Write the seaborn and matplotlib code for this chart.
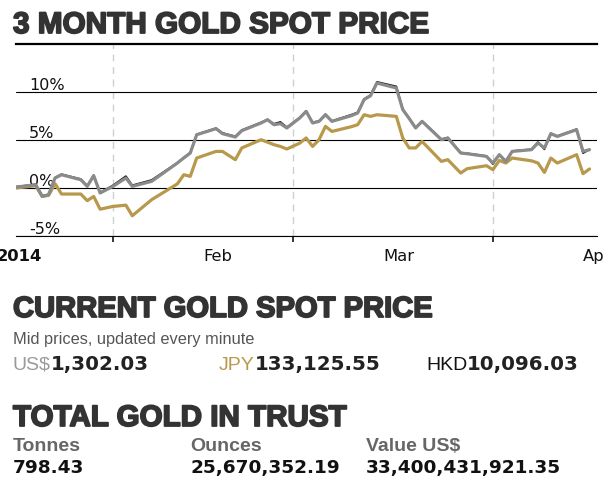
import numpy as np
import pandas as pd
import matplotlib
matplotlib.use("Agg")
import matplotlib.pyplot as plt
import matplotlib.patheffects as pe
from matplotlib.ticker import FixedLocator, FixedFormatter, NullFormatter
import matplotlib.dates as mdates
import seaborn as sns

# ---------------- data ----------------
dates = ["2014-01-17", "2014-01-20", "2014-01-21", "2014-01-22", "2014-01-23", "2014-01-24",
         "2014-01-27", "2014-01-28", "2014-01-29", "2014-01-30", "2014-02-01",
         "2014-02-03", "2014-02-04", "2014-02-07", "2014-02-11", "2014-02-12", "2014-02-13", "2014-02-14",
         "2014-02-17", "2014-02-18", "2014-02-20", "2014-02-21",
         "2014-02-24", "2014-02-25", "2014-02-26", "2014-02-27", "2014-02-28",
         "2014-03-02", "2014-03-03", "2014-03-04", "2014-03-05", "2014-03-06", "2014-03-07",
         "2014-03-10", "2014-03-11", "2014-03-12", "2014-03-13", "2014-03-14",
         "2014-03-17", "2014-03-18", "2014-03-19", "2014-03-20", "2014-03-21",
         "2014-03-24", "2014-03-25", "2014-03-27", "2014-03-28",
         "2014-03-31", "2014-04-01", "2014-04-02", "2014-04-03", "2014-04-04",
         "2014-04-07", "2014-04-08", "2014-04-09", "2014-04-10", "2014-04-11",
         "2014-04-14", "2014-04-15", "2014-04-16"]

usd_pct = [0.07, 0.31, -0.91, -0.73, 1.01, 1.35,
           0.83, 0.14, 1.25, -0.55, 0.14,
           1.01, 0.14, 0.66, 2.57, 3.10, 3.61, 5.52,
           6.15, 5.63, 5.28, 5.94,
           6.74, 7.08, 6.56, 6.67, 6.22,
           7.26, 7.95, 6.74, 6.91, 7.60, 6.91,
           7.50, 7.78, 9.17, 9.58, 10.90,
           10.39, 8.13, 7.20, 6.22, 6.91,
           5.00, 5.18, 3.61, 3.54,
           3.26, 2.57, 3.44, 2.74, 3.78,
           3.96, 4.66, 4.14, 5.63, 5.34,
           6.04, 3.78, 3.96]

usd_ref_pct = [0.10, 0.35, -0.85, -0.70, 1.05, 1.40,
               0.90, 0.20, 1.30, -0.50, 0.25,
               1.20, 0.25, 0.80, 2.60, 3.15, 3.65, 5.55,
               6.20, 5.70, 5.35, 6.00,
               6.80, 7.10, 6.65, 6.85, 6.30,
               7.30, 8.00, 6.80, 6.95, 7.65, 6.95,
               7.60, 7.85, 9.25, 9.65, 11.02,
               10.55, 8.20, 7.25, 6.25, 6.95,
               5.05, 5.22, 3.65, 3.58,
               3.30, 2.45, 3.45, 2.78, 3.82,
               4.00, 4.75, 4.00, 5.66, 5.38,
               6.10, 3.60, 3.98]

jpy_pct = [-0.03, 0.21, -0.90, -0.80, 0.42, -0.66,
           -0.66, -1.35, -0.91, -2.24, -1.95,
           -1.82, -2.92, -1.25, 0.40, 1.35, 1.18, 3.09,
           3.78, 3.78, 2.92, 4.14,
           5.00, 4.74, 4.48, 4.30, 4.03,
           4.64, 5.18, 4.30, 5.00, 6.39, 5.86,
           6.35, 6.56, 7.60, 7.43, 7.60,
           7.43, 5.18, 4.14, 4.14, 4.82,
           2.74, 2.92, 1.53, 1.98,
           2.29, 1.88, 2.84, 2.57, 3.09,
           2.80, 2.57, 1.59, 3.09, 2.57,
           3.44, 1.46, 1.95]

y_ticks = [-5, 0, 5, 10]
y_tick_labels = ["-5%", "0%", "5%", "10%"]
y_range = [-5, 15]
month_starts = ["2014-02-01", "2014-03-01", "2014-04-01"]
month_label_pos = ["2014-01-14", "2014-02-15", "2014-03-15", "2014-04-15"]
month_labels = ["2014", "Feb", "Mar", "Apr"]
x_range = ["2014-01-16 22:30", "2014-04-17 04:00"]

title = "3 MONTH GOLD SPOT PRICE"
spot_title = "CURRENT GOLD SPOT PRICE"
spot_note = "Mid prices, updated every minute"
currency_labels = ["US$", "JPY", "HKD"]
spot_prices = ["1,302.03", "133,125.55", "10,096.03"]
trust_title = "TOTAL GOLD IN TRUST"
trust_labels = ["Tonnes", "Ounces", "Value US$"]
trust_values = ["798.43", "25,670,352.19", "33,400,431,921.35"]

# ---------------- style ----------------
sns.set_theme(style="white")
plt.rcParams['font.family'] = ['DejaVu Sans']

GOLD = "#b8994c"
GREY = "#8a8a8a"

W, H = 604, 485
fig = plt.figure(figsize=(W / 100, H / 100), dpi=100)
fig.patch.set_facecolor("white")
ax = fig.add_axes([16 / W, 1 - 236.7 / H, 581 / W, 192 / H])
ax.set_facecolor("white")

df = pd.DataFrame({"date": pd.to_datetime(dates), "USD": usd_pct,
                   "USDref": usd_ref_pct, "JPY": jpy_pct})

sns.lineplot(data=df, x="date", y="JPY", color=GOLD, lw=2.3, ax=ax, zorder=3)
sns.lineplot(data=df, x="date", y="USDref", color="#151515", lw=1.3, ax=ax, zorder=4)
sns.lineplot(data=df, x="date", y="USD", color=GREY, lw=2.3, ax=ax, zorder=5)

ax.set_xlim(pd.to_datetime(x_range))
ax.set_ylim(y_range)
ax.set_xlabel("")
ax.set_ylabel("")

# y axis: labels inside, above grid lines
ax.set_yticks(y_ticks)
ax.set_yticklabels(y_tick_labels)
ax.tick_params(axis='y', length=0, pad=-9.4, labelsize=11.5, labelcolor='#111111', left=True)
for lbl in ax.get_yticklabels():
    lbl.set_ha('left')
    lbl.set_va('bottom')
ax.yaxis.grid(True, color='black', lw=0.8)

# x axis: ticks at month starts, labels mid-month
ax.xaxis.set_major_locator(FixedLocator(mdates.date2num(pd.to_datetime(month_starts))))
ax.xaxis.set_major_formatter(NullFormatter())
ax.tick_params(axis='x', which='major', direction='out', length=4.5, width=1.1,
               color='black', bottom=True)
ax.xaxis.grid(True, which='major', color='#cfcfcf', ls=(0, (5, 4)), lw=1)
ax.set_axisbelow(True)

label_dates = pd.to_datetime(month_label_pos)
for i, (d, lab) in enumerate(zip(label_dates, month_labels)):
    ax.annotate(lab, xy=(mdates.date2num(d), 0), xycoords=ax.get_xaxis_transform(),
                xytext=(0, -9), textcoords='offset points', ha='left', va='top',
                fontsize=11.8, color='#111111', fontweight='bold' if i == 0 else 'normal',
                annotation_clip=False)

for s in ['left', 'right']:
    ax.spines[s].set_visible(False)
ax.spines['top'].set_color('black')
ax.spines['top'].set_linewidth(1.6)
ax.spines['bottom'].set_color('black')
ax.spines['bottom'].set_linewidth(0.8)


# ---------------- text blocks ----------------
def ftext(x, y, s, **kw):
    return fig.text(x / W, 1 - y / H, s, va='baseline', **kw)


def heavy(size):
    return dict(family=['Liberation Sans', 'DejaVu Sans'], weight='bold', size=size,
                color='#333333',
                path_effects=[pe.withStroke(linewidth=1.3, foreground='#333333')])


ftext(13, 34, title, **heavy(21.4))
ftext(13, 318, spot_title, **heavy(21.0))
ftext(13, 427, trust_title, **heavy(21.3))

ftext(13, 344, spot_note, family=['Liberation Sans', 'DejaVu Sans'], size=11.8, color='#555555')

renderer = fig.canvas.get_renderer()
cur_colors = ['#9a9a9a', GOLD, '#111111']
cur_x = [13, 219, 426]
for x, lab, val, c in zip(cur_x, currency_labels, spot_prices, cur_colors):
    t = ftext(x, 370, lab, family=['Liberation Sans', 'DejaVu Sans'], size=14, color=c)
    bb = t.get_window_extent(renderer)
    fig.text(bb.x1 / W, 1 - 370 / H, val, va='baseline', family=['DejaVu Sans'],
             weight='bold', size=14.3, color='#222222')

trust_x = [13, 190, 366]
for x, lab, val in zip(trust_x, trust_labels, trust_values):
    ftext(x, 451, lab, family=['Liberation Sans', 'DejaVu Sans'], weight='bold', size=14,
          color='#666666')
    ftext(x, 473, val, family=['DejaVu Sans'], weight='bold', size=13.3, color='#111111')

fig.savefig("out.png", dpi=100, facecolor="white")
